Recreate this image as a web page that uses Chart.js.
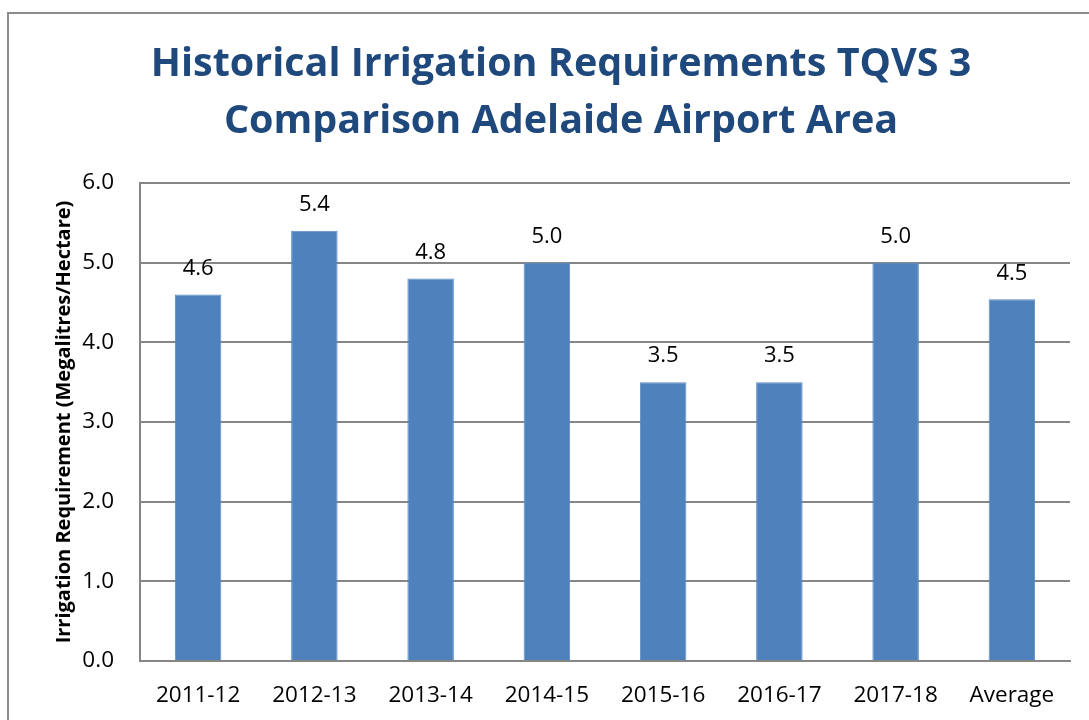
<!DOCTYPE html>
<html>
<head>
<meta charset="utf-8">
<script src="https://cdn.jsdelivr.net/npm/chart.js@4.4.1/dist/chart.umd.min.js"></script>
<style>
  html, body { margin: 0; padding: 0; background: #ffffff; overflow: hidden; }
  #frame { position: absolute; left: 7px; top: 12px; width: 1200px; height: 800px; border: 2px solid #8c8c8c; box-sizing: border-box; }
  #wrap { position: absolute; left: 0; top: 0; width: 1089px; height: 720px; }
</style>
</head>
<body>
<div id="frame"></div>
<div id="wrap"><canvas id="c" width="1089" height="720"></canvas></div>
<script>
const categories = ['2011-12', '2012-13', '2013-14', '2014-15', '2015-16', '2016-17', '2017-18', 'Average'];
const irrigationValues = [4.6, 5.4, 4.8, 5.0, 3.5, 3.5, 5.0, 4.54];
const yTickLabels = ['0.0', '1.0', '2.0', '3.0', '4.0', '5.0', '6.0'];
const titleLines = ['Historical Irrigation Requirements TQVS 3', 'Comparison Adelaide Airport Area'];
const yAxisTitle = 'Irrigation Requirement (Megalitres/Hectare)';

const labelFont = "'Open Sans', 'Noto Sans', sans-serif";

const dataLabelPlugin = {
  id: 'dataLabels',
  afterDatasetsDraw(chart) {
    const ctx = chart.ctx;
    const meta = chart.getDatasetMeta(0);
    ctx.save();
    ctx.font = "22px " + labelFont;
    ctx.fillStyle = '#000000';
    ctx.textAlign = 'center';
    ctx.textBaseline = 'middle';
    meta.data.forEach((bar, i) => {
      const v = chart.data.datasets[0].data[i];
      ctx.fillText(v.toFixed(1), bar.x, bar.y - 26);
    });
    ctx.restore();
  }
};

new Chart(document.getElementById('c'), {
  type: 'bar',
  data: {
    labels: categories,
    datasets: [{
      data: irrigationValues,
      backgroundColor: '#4F81BD',
      borderColor: '#5B8CC6',
      borderWidth: 1,
      barPercentage: 0.4,
      categoryPercentage: 1.0
    }]
  },
  options: {
    responsive: false,
    animation: false,
    devicePixelRatio: 1,
    layout: { padding: { top: 10, left: 52, right: 19, bottom: -10 } },
    plugins: {
      legend: { display: false },
      tooltip: { enabled: false },
      title: {
        display: true,
        text: titleLines,
        color: '#1F497D',
        font: { family: "'Open Sans', sans-serif", size: 39.5, weight: 'bold', lineHeight: 1.443 },
        padding: { top: 26.5, bottom: 32.5 }
      }
    },
    scales: {
      x: {
        grid: { display: false, drawTicks: false },
        border: { color: '#868686', width: 2 },
        ticks: { color: '#000000', font: { family: labelFont, size: 22.5 }, padding: 21, maxRotation: 0 }
      },
      y: {
        min: 0,
        max: 6,
        afterFit(scale) { scale.width = 88; },
        grid: { color: '#868686', lineWidth: 2, drawTicks: false },
        border: { color: '#868686', width: 2 },
        ticks: {
          stepSize: 1,
          color: '#000000',
          font: { family: labelFont, size: 22.5 },
          padding: 26,
          callback: (v) => yTickLabels[v]
        },
        title: {
          display: true,
          text: yAxisTitle,
          color: '#000000',
          font: { family: labelFont, size: 20, weight: 'bold' },
          padding: 0
        }
      }
    }
  },
  plugins: [dataLabelPlugin]
});
</script>
</body>
</html>
